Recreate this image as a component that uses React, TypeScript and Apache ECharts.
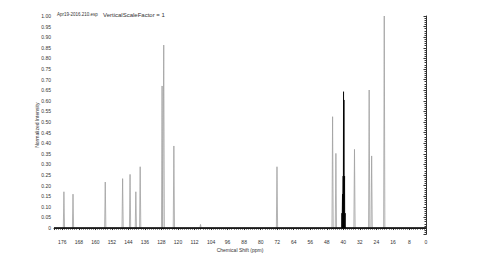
import React, { useEffect, useRef } from "react";
import * as echarts from "echarts";

// Chemical shifts (ppm) and normalized heights of the sample peaks
const peakShifts = [175.2, 170.8, 155.2, 146.8, 143.2, 140.4, 138.3, 127.7, 126.9, 122.0, 109.1, 72.1, 45.2, 43.6, 34.6, 27.5, 26.3, 20.2];
const peakHeights = [0.171, 0.16, 0.217, 0.233, 0.253, 0.171, 0.289, 0.67, 0.863, 0.387, 0.017, 0.289, 0.525, 0.352, 0.371, 0.651, 0.34, 1.0];

// Solvent multiplet (drawn in black)
const solventShifts = [40.7, 40.4, 40.1, 39.9, 39.7, 39.4, 39.1];
const solventHeights = [0.07, 0.16, 0.245, 0.643, 0.604, 0.245, 0.07];

// Axis settings
const xMin = 0;
const xMax = 180;
const xStep = 8;
const yMin = -0.03;
const yMax = 1.0;

const fileLabel = "Apr19-2016.210.esp";
const scaleLabel = "VerticalScaleFactor = 1";
const xTitle = "Chemical Shift (ppm)";
const yTitle = "Normalized Intensity";

export default function App() {
  const ref = useRef<HTMLDivElement>(null);

  useEffect(() => {
    if (!ref.current) return;
    const chart = echarts.init(ref.current, null, { renderer: "svg" });

    const hw = 0.3;
    const peakData: number[][] = [[xMax, 0]];
    peakShifts.forEach((p, i) => {
      peakData.push([p + hw, 0], [p, peakHeights[i]], [p - hw, 0]);
    });
    peakData.push([xMin, 0]);

    const shw = 0.08;
    const solventData: number[][] = [];
    solventShifts.forEach((p, i) => {
      solventData.push([p + shw, 0], [p, solventHeights[i]], [p - shw, 0]);
    });

    const axisColor = "#333";
    const textColor = "#333";
    const font = "Arial, 'Liberation Sans', sans-serif";

    chart.setOption({
      animation: false,
      grid: { left: 54, right: 74, top: 16, bottom: 26.6, containLabel: false },
      xAxis: {
        type: "value",
        inverse: true,
        min: xMin,
        max: xMax,
        interval: xStep,
        name: xTitle,
        nameLocation: "middle",
        nameGap: 13,
        nameMoveOverlap: false,
        nameTextStyle: { fontSize: 5, color: textColor, fontFamily: font },
        axisLine: { show: true, lineStyle: { color: axisColor, width: 1 } },
        axisTick: { show: true, length: 2, lineStyle: { color: axisColor } },
        minorTick: { show: true, splitNumber: 8, length: 1.5, lineStyle: { color: axisColor } },
        axisLabel: { fontSize: 5, color: textColor, fontFamily: font, margin: 5, showMaxLabel: false },
        splitLine: { show: false },
      },
      yAxis: {
        type: "value",
        min: yMin,
        max: yMax,
        splitNumber: 20,
        name: yTitle,
        nameLocation: "middle",
        nameGap: 15,
        nameMoveOverlap: false,
        nameRotate: 90,
        nameTextStyle: { fontSize: 5, color: textColor, fontFamily: font },
        axisLine: { show: true, lineStyle: { color: axisColor, width: 1 } },
        axisTick: { show: true, length: 2.5, lineStyle: { color: axisColor } },
        minorTick: { show: true, splitNumber: 5, length: 1.5, lineStyle: { color: axisColor } },
        axisLabel: {
          fontSize: 5,
          color: textColor,
          fontFamily: font,
          margin: 3,
          showMinLabel: false,
          formatter: (v: number) => (Math.abs(v) < 1e-9 ? "0" : v.toFixed(2)),
        },
        splitLine: { show: false },
      },
      graphic: [
        {
          type: "text",
          left: 57,
          top: 12,
          style: { text: fileLabel, fontSize: 4.5, fill: textColor, fontFamily: font },
        },
        {
          type: "text",
          left: 103,
          top: 12,
          style: { text: scaleLabel, fontSize: 6, fill: textColor, fontFamily: font },
        },
      ],
      series: [
        {
          type: "line",
          data: peakData,
          showSymbol: false,
          symbol: "none",
          lineStyle: { color: "#a0a0a0", width: 0.8 },
          z: 2,
        },
        {
          type: "line",
          data: [[xMax, 0], [xMin, 0]],
          showSymbol: false,
          symbol: "none",
          lineStyle: { color: "#000", width: 1.6 },
          z: 3,
        },
        {
          type: "line",
          data: solventData,
          showSymbol: false,
          symbol: "none",
          lineStyle: { color: "#000", width: 0.8 },
          z: 4,
        },
      ],
    });

    return () => chart.dispose();
  }, []);

  return (
    <div
      ref={ref}
      style={{ position: "fixed", left: 0, top: 0, width: 500, height: 261, background: "#fff" }}
    />
  );
}
